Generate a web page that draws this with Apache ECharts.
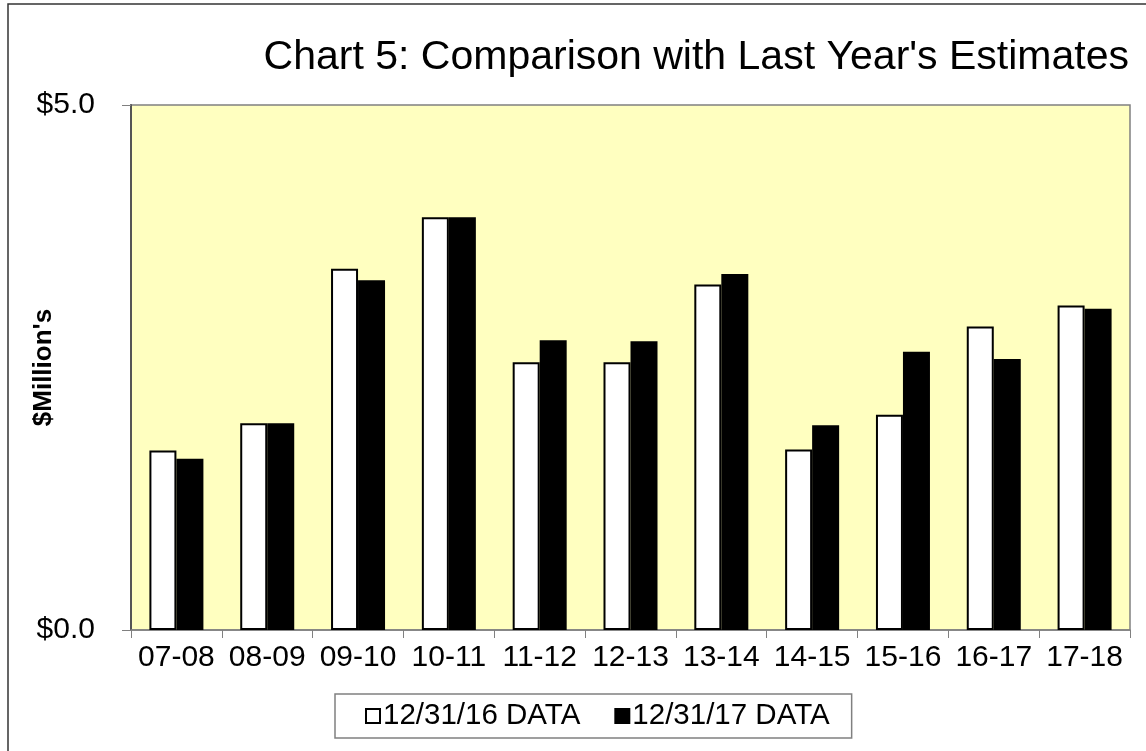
<!DOCTYPE html>
<html>
<head>
<meta charset="utf-8">
<title>Chart 5: Comparison with Last Year's Estimates</title>
<script src="https://cdn.jsdelivr.net/npm/echarts@6/dist/echarts.min.js"></script>
<style>
  html, body { margin: 0; padding: 0; background: #ffffff; }
  #chart { width: 1146px; height: 751px; }
</style>
</head>
<body>
<div id="chart"></div>
<script>
// Fiscal years on the category axis
const fiscalYears = ['07-08', '08-09', '09-10', '10-11', '11-12', '12-13', '13-14', '14-15', '15-16', '16-17', '17-18'];

// Estimates in $ millions, as of each data date
const data2016 = [1.71, 1.97, 3.44, 3.93, 2.55, 2.55, 3.29, 1.72, 2.05, 2.89, 3.09];
const data2017 = [1.63, 1.97, 3.33, 3.93, 2.76, 2.75, 3.39, 1.95, 2.65, 2.58, 3.06];

const seriesNames = ['12/31/16 DATA', '12/31/17 DATA'];
const yTicks = [0, 5];

const FONT = '"Liberation Sans", Arial, Helvetica, sans-serif';

const chart = echarts.init(document.getElementById('chart'), null, { renderer: 'canvas' });

chart.setOption({
  backgroundColor: '#ffffff',
  animation: false,
  textStyle: { fontFamily: FONT, color: '#000' },
  title: {
    text: "Chart 5: Comparison with Last Year's Estimates",
    right: 12,
    top: 32,
    textStyle: { fontFamily: FONT, fontSize: 41, fontWeight: 'normal', color: '#000' }
  },
  graphic: [
    {
      type: 'rect',
      z: -1,
      shape: { x: 8, y: 4, width: 1200, height: 800 },
      style: { fill: null, stroke: '#333', lineWidth: 1.5 }
    }
  ],
  legend: {
    data: seriesNames,
    left: 335,
    top: 694,
    orient: 'horizontal',
    padding: [7, 22, 7, 30],
    itemGap: 34,
    itemWidth: 14,
    itemHeight: 14,
    icon: 'rect',
    backgroundColor: '#ffffff',
    borderColor: '#808080',
    borderWidth: 1.5,
    textStyle: { fontFamily: FONT, fontSize: 29.5, color: '#000', padding: [0, 0, 0, -2] }
  },
  grid: {
    left: 131,
    right: 16,
    top: 105,
    bottom: 121,
    outerBoundsMode: 'none',
    show: true,
    backgroundColor: '#ffffc0',
    borderColor: '#808080',
    borderWidth: 1.5
  },
  xAxis: {
    type: 'category',
    data: fiscalYears,
    axisLine: { show: true, lineStyle: { color: '#808080', width: 1.5 } },
    axisTick: { show: true, interval: 0, length: 8, lineStyle: { color: '#808080', width: 1 } },
    axisLabel: { interval: 0, margin: 13, fontFamily: FONT, fontSize: 30, color: '#000' },
    splitLine: { show: false }
  },
  yAxis: {
    type: 'value',
    min: yTicks[0],
    max: yTicks[yTicks.length - 1],
    interval: yTicks[yTicks.length - 1] - yTicks[0],
    name: "$Million's",
    nameLocation: 'middle',
    nameGap: 74,
    nameRotate: 90,
    nameMoveOverlap: false,
    nameTextStyle: { fontFamily: FONT, fontSize: 26, fontWeight: 'bold', color: '#000' },
    axisLine: { show: true, lineStyle: { color: '#555', width: 2 } },
    axisTick: { show: true, length: 9, lineStyle: { color: '#808080', width: 1 } },
    axisLabel: {
      margin: 36,
      fontFamily: FONT,
      fontSize: 30,
      color: '#000',
      formatter: v => '$' + v.toFixed(1)
    },
    splitLine: { show: false }
  },
  series: [
    {
      name: seriesNames[0],
      type: 'bar',
      data: data2016,
      barWidth: 27,
      barGap: '0%',
      itemStyle: { color: '#ffffff', borderColor: '#000', borderWidth: 2 }
    },
    {
      name: seriesNames[1],
      type: 'bar',
      data: data2017,
      barWidth: 27,
      barGap: '0%',
      itemStyle: { color: '#000000', borderColor: '#000', borderWidth: 2 }
    }
  ]
});
</script>
</body>
</html>
